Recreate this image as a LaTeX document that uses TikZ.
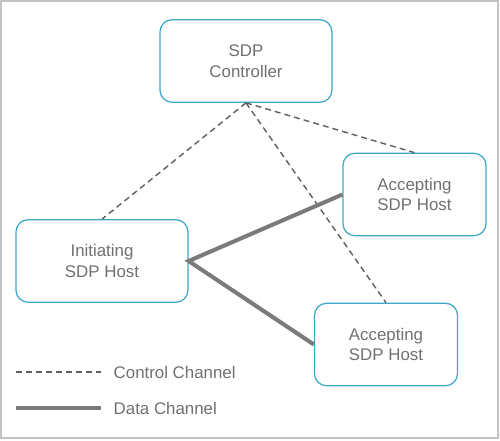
\documentclass[tikz,border=0pt]{standalone}
\usepackage{fontspec}
\setmainfont{Liberation Sans}
\usetikzlibrary{positioning}

\begin{document}
\begin{tikzpicture}[x=0.02cm,y=-0.02cm,
  font=\fontsize{9.6}{11.6}\selectfont,
  host/.style={draw=boxline,line width=0.7pt,rounded corners=0.24cm,
    text=label,align=center,minimum height=1.65cm},
  control/.style={draw=ctrlline,line width=0.8pt,dash pattern=on 3.4pt off 2.3pt},
  data/.style={draw=dataline,line width=2.3pt}]
\definecolor{boxline}{RGB}{62,168,200}
\definecolor{label}{RGB}{112,112,112}
\definecolor{ctrlline}{RGB}{95,95,95}
\definecolor{dataline}{RGB}{122,122,122}
\definecolor{frame}{RGB}{195,195,195}

\useasboundingbox (0,0) rectangle (500,440);
\draw[frame,line width=0.7pt] (1,1) rectangle (498,438);

% Controller and hosts.
\node[host,minimum width=3.44cm] (ctrl) at (246,61) {SDP\\Controller};
\node[host,minimum width=3.44cm] (init) at (102,261) {Initiating\\SDP Host};
\node[host,minimum width=2.86cm] (acc1) at (414.5,194.5) {Accepting\\SDP Host};
\node[host,minimum width=2.86cm] (acc2) at (386,344.5) {Accepting\\SDP Host};

% Control channels from the controller.
\draw[control] (ctrl.south)--(init.north);
\draw[control] (ctrl.south)--(acc1.north);
\draw[control] (ctrl.south)--(acc2.north);

% Data channels from the initiating host.
\draw[data] (acc1.west)--(init.east)--(acc2.west);

% Legend.
\coordinate (c1) at (16,372);
\coordinate (c2) at (101,372);
\coordinate (d1) at (16,408);
\coordinate (d2) at (101,408);
\draw[control] (c1)--(c2);
\draw[data] (d1)--(d2);
\node[text=label,right=0.13cm of c2] (ctext) {Control Channel};
\node[text=label,right=0.13cm of d2] (dtext) {Data Channel};
\end{tikzpicture}
\end{document}
